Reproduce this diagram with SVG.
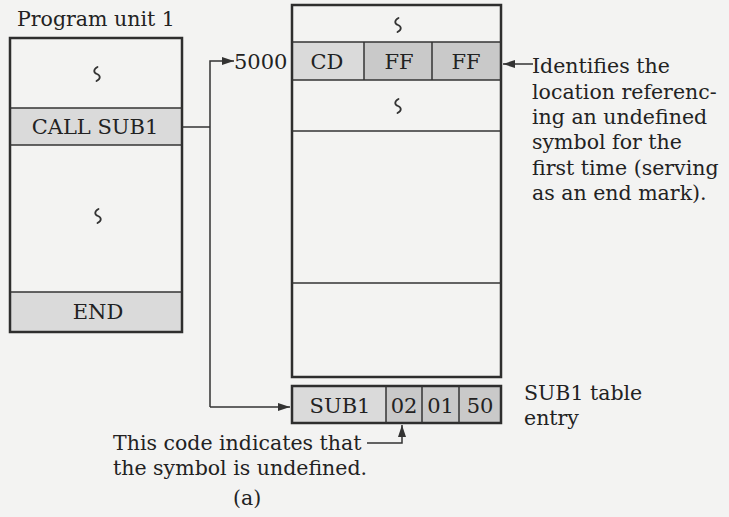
<svg xmlns="http://www.w3.org/2000/svg" width="729" height="517" viewBox="0 0 729 517">
<style>
text{font-family:"DejaVu Serif","Liberation Serif",serif;fill:#222}
.lbl{font-size:20.5px}
.cell{font-size:21px;text-anchor:middle}
.box{fill:none;stroke:#2e2e2e;stroke-width:2.5}
.div{stroke:#333;stroke-width:1.5;fill:none}
.shadeA{fill:#dadada}
.shadeB{fill:#c9c9c9}
.sq{fill:none;stroke:#333;stroke-width:1.8;stroke-linecap:round}
.conn{fill:none;stroke:#333;stroke-width:1.5}
</style>
<defs>
<marker id="ah" viewBox="0 0 12 8" refX="12" refY="4" markerWidth="12" markerHeight="8" markerUnits="userSpaceOnUse" orient="auto">
<path d="M0,0 L12,4 L0,8 Z" fill="#333"/>
</marker>
<path id="squig" d="M0.5,-7 C-4,-4.5 -3.5,-1.5 0,0 C3.5,1.5 4,4.5 -0.5,7" class="sq"/>
</defs>
<rect width="729" height="517" fill="#f3f3f2"/>

<g id="program-unit-1">
<text class="lbl" x="17" y="26">Program unit 1</text>
<rect x="10" y="108" width="172" height="37" class="shadeA"/>
<rect x="10" y="292" width="172" height="40" class="shadeA"/>
<rect x="10" y="38" width="172" height="294" class="box"/>
<line x1="10" y1="108" x2="182" y2="108" class="div"/>
<line x1="10" y1="145" x2="182" y2="145" class="div"/>
<line x1="10" y1="292" x2="182" y2="292" class="div"/>
<use href="#squig" x="97" y="74"/>
<use href="#squig" x="98" y="216"/>
<text class="cell" x="95" y="134">CALL SUB1</text>
<text class="cell" x="98" y="319">END</text>
</g>

<g id="memory">
<rect x="292" y="42" width="72" height="38" class="shadeA"/>
<rect x="364" y="42" width="68" height="38" class="shadeB"/>
<rect x="432" y="42" width="69" height="38" class="shadeB"/>
<rect x="292" y="5" width="209" height="372" class="box"/>
<line x1="292" y1="42" x2="501" y2="42" class="div"/>
<line x1="292" y1="80" x2="501" y2="80" class="div"/>
<line x1="364" y1="42" x2="364" y2="80" class="div"/>
<line x1="432" y1="42" x2="432" y2="80" class="div"/>
<line x1="292" y1="131" x2="501" y2="131" class="div"/>
<line x1="292" y1="283" x2="501" y2="283" class="div"/>
<use href="#squig" x="398" y="25"/>
<use href="#squig" x="398" y="106"/>
<text class="cell" x="327" y="69">CD</text>
<text class="cell" x="399" y="69">FF</text>
<text class="cell" x="466" y="69">FF</text>
<text class="lbl" x="234" y="69" style="font-size:21px">5000</text>
</g>

<g id="sub1-entry">
<rect x="292" y="386" width="94" height="37" class="shadeA"/>
<rect x="386" y="386" width="36" height="37" class="shadeB"/>
<rect x="422" y="386" width="37" height="37" class="shadeB"/>
<rect x="459" y="386" width="42" height="37" class="shadeB"/>
<rect x="292" y="386" width="209" height="37" class="box"/>
<line x1="386" y1="386" x2="386" y2="423" class="div"/>
<line x1="422" y1="386" x2="422" y2="423" class="div"/>
<line x1="459" y1="386" x2="459" y2="423" class="div"/>
<text class="cell" x="340" y="413">SUB1</text>
<text class="cell" x="404" y="413">02</text>
<text class="cell" x="440.5" y="413">01</text>
<text class="cell" x="480" y="413">50</text>
<text class="lbl" x="524" y="400">SUB1 table</text>
<text class="lbl" x="524" y="425">entry</text>
</g>

<g id="end-mark-note">
<text class="lbl" x="532" y="73">Identifies the</text>
<text class="lbl" x="532" y="98.5">location referenc-</text>
<text class="lbl" x="532" y="124">ing an undefined</text>
<text class="lbl" x="532" y="149">symbol for the</text>
<text class="lbl" x="532" y="175">first time (serving</text>
<text class="lbl" x="532" y="200">as an end mark).</text>
</g>

<g id="undefined-note">
<text class="lbl" x="113" y="450">This code indicates that</text>
<text class="lbl" x="113" y="475">the symbol is undefined.</text>
<text class="lbl" x="233" y="505">(a)</text>
</g>

<g id="connectors">
<polyline points="182,127 210,127" class="conn"/>
<polyline points="210,407 210,61 234,61" class="conn" marker-end="url(#ah)"/>
<polyline points="210,407 290,407" class="conn" marker-end="url(#ah)"/>
<polyline points="533,64 503,64" class="conn" marker-end="url(#ah)"/>
<polyline points="367,443 402,443 402,425" class="conn" marker-end="url(#ah)"/>
</g>
</svg>
